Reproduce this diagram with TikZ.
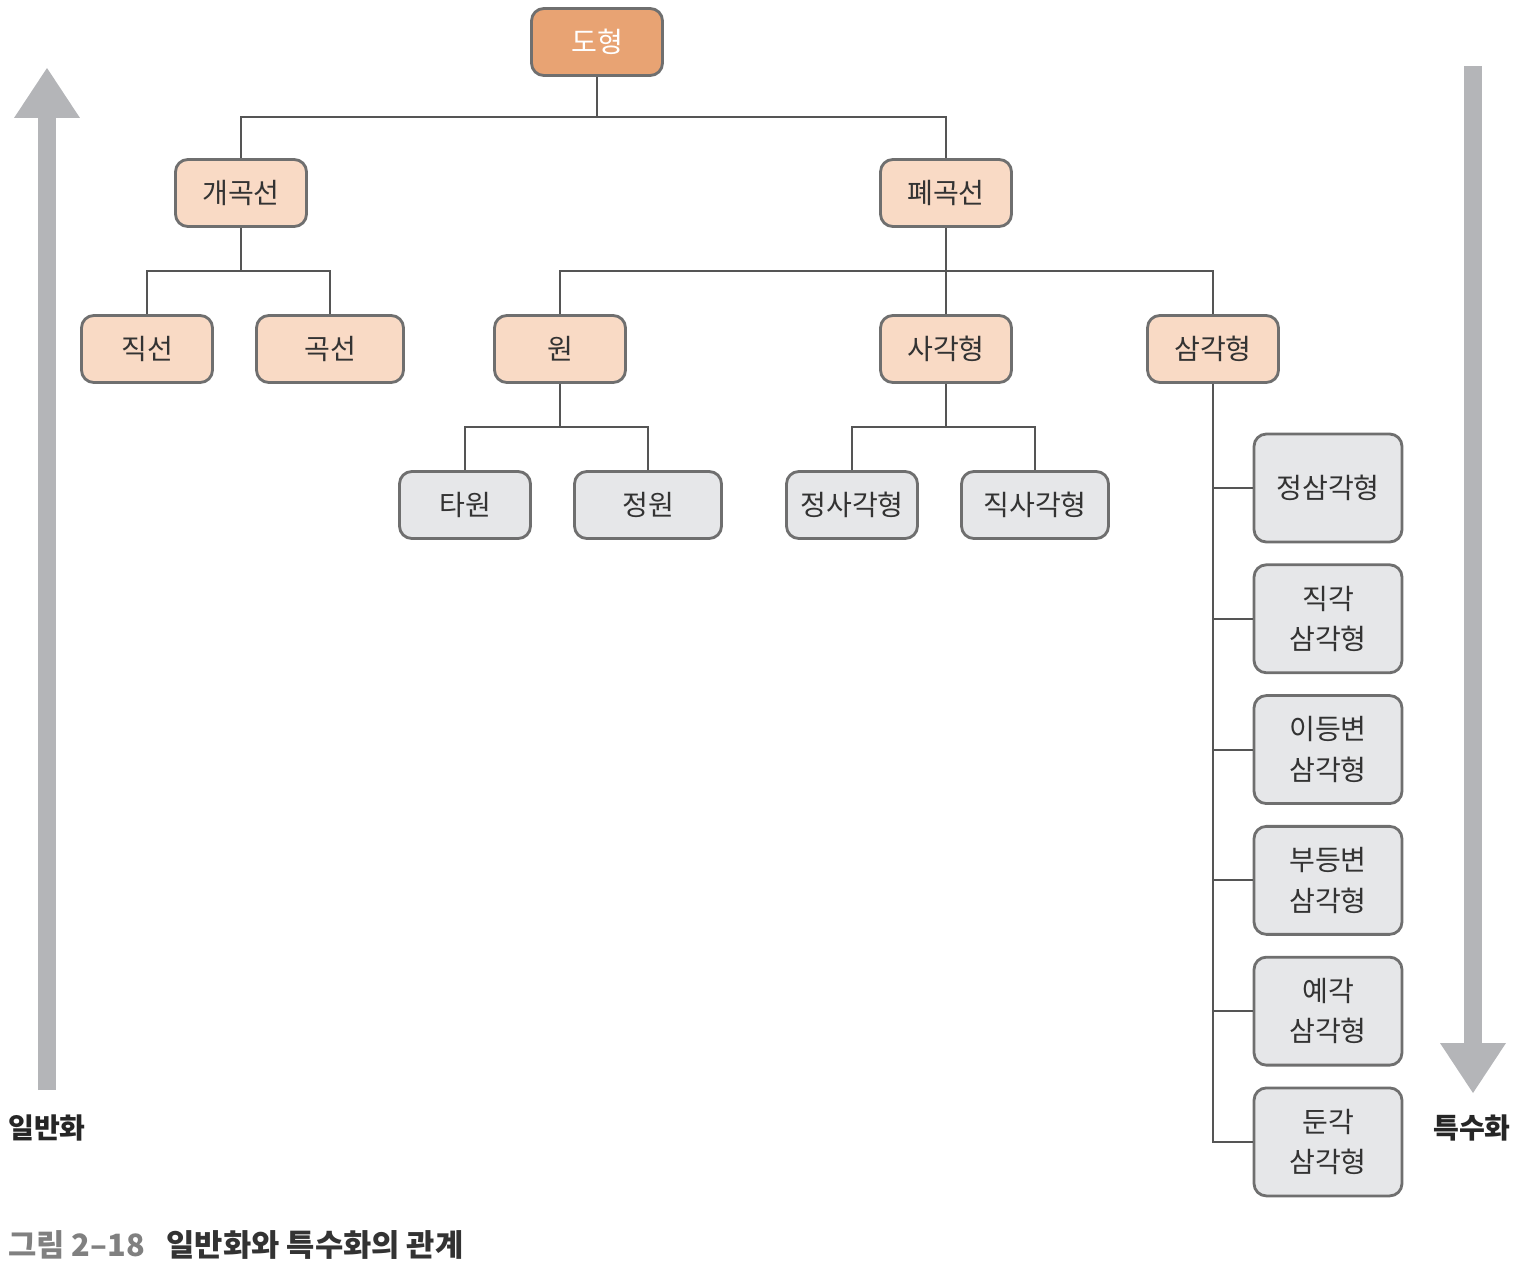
\documentclass[tikz,border=0pt]{standalone}
\usepackage{fontspec}
\setmainfont{Noto Sans CJK KR}
\usepackage{xcolor}
\usepackage{tikz}
\usetikzlibrary{arrows.meta,positioning}

\definecolor{topfill}{HTML}{E8A373}
\definecolor{midfill}{HTML}{F9DAC5}
\definecolor{leaffill}{HTML}{E6E7E9}
\definecolor{boxline}{HTML}{6F6F6F}
\definecolor{barline}{HTML}{555555}
\definecolor{arrowgray}{HTML}{B4B5B8}

\begin{document}
\begin{tikzpicture}[x=0.02cm, y=-0.02cm,
box/.style={draw=boxline, line width=1.6pt, rounded corners=7pt, minimum height=1.34cm, minimum width=2.62cm, font=\fontsize{16}{23}\selectfont, text=black!80, align=center, inner sep=2pt},
gen/.style={box, fill=topfill, text=white},
mid/.style={box, fill=midfill},
spec/.style={box, fill=leaffill},
wide/.style={minimum width=2.94cm},
tall/.style={spec, minimum width=2.96cm, minimum height=2.16cm},
link/.style={draw=barline, line width=1.1pt},
bigarrow/.style={draw=arrowgray, line width=0.36cm, -{Triangle[width=1.32cm,length=1cm,line width=0pt]}},
side/.style={font=\bfseries\fontsize{16}{18}\selectfont, text=black!85}
]
\useasboundingbox (0,0) rectangle (1516,1278);

\node[gen] (dohyeong) at (597,42) {도형};
\node[mid] (gaegok) at (241,193) {개곡선};
\node[mid] (pyegok) at (946,193) {폐곡선};
\node[mid] (jikseon) at (147,349) {직선};
\node[mid, wide] (gokseon) at (330,349) {곡선};
\node[mid] (won) at (560,349) {원};
\node[mid] (sagak) at (946,349) {사각형};
\node[mid] (samgak) at (1213,349) {삼각형};
\node[spec] (tawon) at (465,505) {타원};
\node[spec, wide] (jeongwon) at (648,505) {정원};
\node[spec] (jeongsa) at (852,505) {정사각형};
\node[spec, wide] (jiksa) at (1035,505) {직사각형};
\node[tall] (t1) at (1328,488) {정삼각형};
\node[tall, below=0.4cm of t1] (t2) {직각\\삼각형};
\node[tall, below=0.4cm of t2] (t3) {이등변\\삼각형};
\node[tall, below=0.4cm of t3] (t4) {부등변\\삼각형};
\node[tall, below=0.4cm of t4] (t5) {예각\\삼각형};
\node[tall, below=0.4cm of t5] (t6) {둔각\\삼각형};

\draw[link] (dohyeong) -- ++(0,75) -| (gaegok);
\draw[link] (dohyeong) -- ++(0,75) -| (pyegok);
\draw[link] (gaegok) -- ++(0,78) -| (jikseon);
\draw[link] (gaegok) -- ++(0,78) -| (gokseon);
\draw[link] (pyegok) -- ++(0,78) -| (won);
\draw[link] (pyegok) -- (sagak);
\draw[link] (pyegok) -- ++(0,78) -| (samgak);
\draw[link] (won) -- ++(0,78) -| (tawon);
\draw[link] (won) -- ++(0,78) -| (jeongwon);
\draw[link] (sagak) -- ++(0,78) -| (jeongsa);
\draw[link] (sagak) -- ++(0,78) -| (jiksa);
\draw[link] (samgak) -- (samgak |- t6.west) -- (t6.west);
\foreach \n in {t1,t2,t3,t4,t5}
  \draw[link] (samgak |- \n.west) -- (\n.west);

% generalisation / specialisation
\coordinate (genlow) at (47,1090);
\coordinate (genhigh) at (47,68);
\coordinate (spechigh) at (1473,66);
\coordinate (speclow) at (1473,1093);
\draw[bigarrow] (genlow) -- (genhigh);
\draw[bigarrow] (spechigh) -- (speclow);
\node[side] (genlabel) at (47,1128) {일반화};
\node[side] (speclabel) at (1472,1128) {특수화};

\node[anchor=west, inner sep=0pt, font=\bfseries\fontsize{17.5}{20}\selectfont] (caption) at (8,1245) {\textcolor{gray}{그림 2–18}\hspace{0.7em}\textcolor{black!80}{일반화와 특수화의 관계}};
\end{tikzpicture}
\end{document}
